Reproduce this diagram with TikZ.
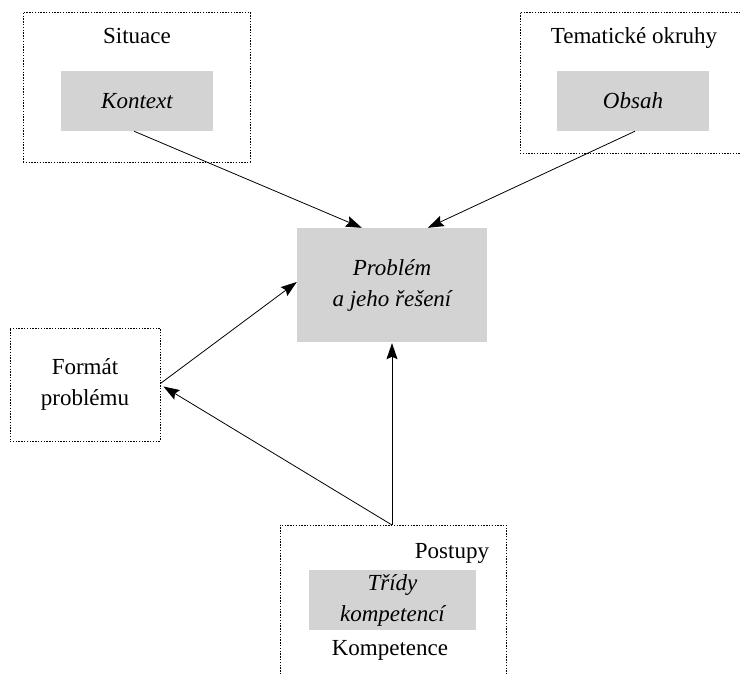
\documentclass[tikz,border=0pt]{standalone}
\usepackage{fontspec}
\setmainfont{Liberation Serif}
\usetikzlibrary{arrows.meta}
\definecolor{boxgray}{RGB}{211,211,211}
\tikzset{
  dotbox/.style={draw, line width=0.8pt, dash pattern=on 1.4pt off 1.4pt, inner sep=0pt},
  graybox/.style={fill=boxgray, inner sep=0pt, align=center, font=\itshape},
  lbl/.style={anchor=base, inner sep=0pt},
  arr/.style={line width=0.8pt, -{Stealth[length=16pt,width=11pt,inset=2.5pt]}},
}
\begin{document}
\begin{tikzpicture}[x=1pt,y=-1pt]
\fontsize{23}{31}\selectfont
\useasboundingbox (0,0) rectangle (740,673);
\clip (0,0) rectangle (740,673);
% Situace
\node[dotbox, minimum width=227pt, minimum height=150pt] (sit) at (136.5,87) {};
\node[lbl] (sitl) at (137,43) {Situace};
\node[graybox, minimum width=152pt, minimum height=60pt] (kontext) at (137,101) {Kontext};
% Tematicke okruhy
\node[dotbox, minimum width=240pt, minimum height=141pt] (tema) at (640,82.5) {};
\node[lbl] (temal) at (634,43) {Tematické okruhy};
\node[graybox, minimum width=152pt, minimum height=60pt] (obsah) at (633,101) {Obsah};
% Problem
\node[graybox, minimum width=190pt, minimum height=114pt] (problem) at (392,285) {Problém\\a jeho řešení};
% Format
\node[dotbox, minimum width=150pt, minimum height=113pt, align=center] (format) at (85,384.5) {Formát\\problému};
% Bottom open box
\coordinate (btop) at (392,525);
\draw[line width=0.8pt, dash pattern=on 1.4pt off 1.4pt] (280,680) -- (280,525) -- (506,525) -- (506,680);
\node[lbl] (postupy) at (452,558) {Postupy};
\node[graybox, minimum width=167pt, minimum height=60pt] (tridy) at (392.5,600) {Třídy\\kompetencí};
\node[lbl] (komp) at (390,655) {Kompetence};
% Arrows
\draw[arr] ([xshift=-3pt]kontext.south) -- ([xshift=65pt]problem.north west);
\draw[arr] ([xshift=2pt]obsah.south) -- ([xshift=131pt]problem.north west);
\draw[arr] ([yshift=1pt]format.east) -- ([yshift=3pt]problem.west);
\draw[arr] (btop) -- ([xshift=3pt,yshift=-2pt]format.east);
\draw[arr] (btop) -- ([yshift=-1pt]problem.south);
\end{tikzpicture}
\end{document}
